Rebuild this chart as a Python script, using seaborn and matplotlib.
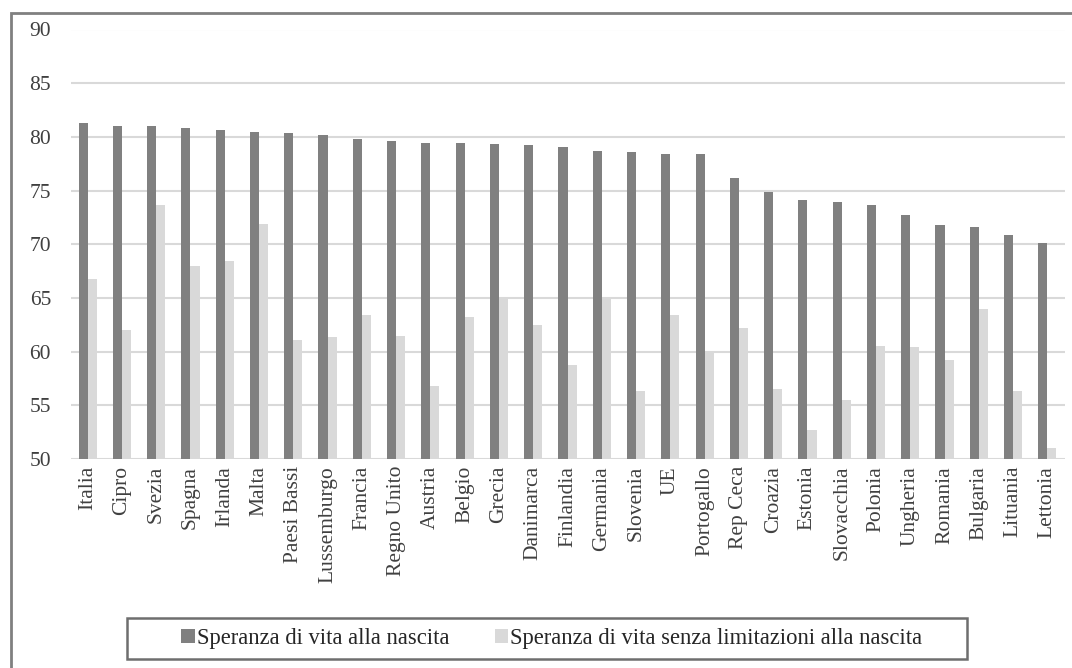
import numpy as np
import pandas as pd
import matplotlib.pyplot as plt
import seaborn as sns
from matplotlib.patches import Rectangle

# Dati
paesi = ['Italia', 'Cipro', 'Svezia', 'Spagna', 'Irlanda', 'Malta', 'Paesi Bassi',
         'Lussemburgo', 'Francia', 'Regno Unito', 'Austria', 'Belgio', 'Grecia',
         'Danimarca', 'Finlandia', 'Germania', 'Slovenia', 'UE', 'Portogallo',
         'Rep Ceca', 'Croazia', 'Estonia', 'Slovacchia', 'Polonia', 'Ungheria',
         'Romania', 'Bulgaria', 'Lituania', 'Lettonia']
vita_nascita = [81.3, 81.0, 81.0, 80.8, 80.6, 80.5, 80.4, 80.2, 79.8, 79.6,
                79.4, 79.4, 79.3, 79.2, 79.1, 78.7, 78.6, 78.4, 78.4,
                76.2, 74.9, 74.1, 73.9, 73.7, 72.7, 71.8, 71.6, 70.9, 70.1]
vita_senza_limitazioni = [66.8, 62.0, 73.7, 68.0, 68.4, 71.9, 61.1, 61.4, 63.4, 61.5,
                          56.8, 63.2, 65.0, 62.5, 58.8, 65.0, 56.3, 63.4, 60.0,
                          62.2, 56.5, 52.7, 55.5, 60.5, 60.4, 59.2, 64.0, 56.3, 51.0]
serie = ['Speranza di vita alla nascita', 'Speranza di vita senza limitazioni alla nascita']
colori = ['#808080', '#d9d9d9']

df = pd.DataFrame({
    'paese': paesi * 2,
    'valore': vita_nascita + vita_senza_limitazioni,
    'serie': [serie[0]] * len(paesi) + [serie[1]] * len(paesi),
})

sns.set_style('white')
plt.rcParams['font.family'] = ['Liberation Serif', 'DejaVu Serif']

W, H = 1072, 668
fig = plt.figure(figsize=(W / 100, H / 100), dpi=100)
ax = fig.add_axes([70.5 / W, 1 - 459 / H, 994 / W, 429.5 / H])

sns.barplot(data=df, x='paese', y='valore', hue='serie', palette=colori,
            width=0.53, gap=0, saturation=1, linewidth=0, ax=ax, legend=True)

ax.set_ylim(50, 90)
ax.set_yticks(np.arange(50, 91, 5))
ax.set_xlim(-0.5, len(paesi) - 0.5)
ax.set_xlabel('')
ax.set_ylabel('')
ax.yaxis.grid(True, color='#d9d9d9', linewidth=1.5)
ax.set_axisbelow(True)
for s in ax.spines.values():
    s.set_visible(False)
ax.tick_params(axis='y', length=0, pad=14, labelsize=15.5, labelcolor='#404040')
ax.tick_params(axis='x', length=0, pad=5, labelsize=15.5, labelcolor='#404040', rotation=90)

leg = ax.legend(loc='center left', bbox_to_anchor=(181 / W, 1 - 638.5 / H),
                bbox_transform=fig.transFigure, ncol=2, frameon=False,
                fontsize=16.3, handlelength=0.6, handleheight=0.6,
                handletextpad=0.1, columnspacing=2.0, borderpad=0, borderaxespad=0)
for t in leg.get_texts():
    t.set_color('#262626')

# riquadro della legenda
fig.patches.append(Rectangle((127 / W, 1 - 659 / H), 840 / W, 41 / H,
                             transform=fig.transFigure, fill=False,
                             edgecolor='#6e6e6e', linewidth=1.8))

# cornice esterna
fig.patches.append(Rectangle((11 / W, -0.05), 1.2, 1 - 13 / H + 0.05,
                             transform=fig.transFigure, fill=False,
                             edgecolor='#808080', linewidth=2))

plt.savefig('out.png', dpi=100)
